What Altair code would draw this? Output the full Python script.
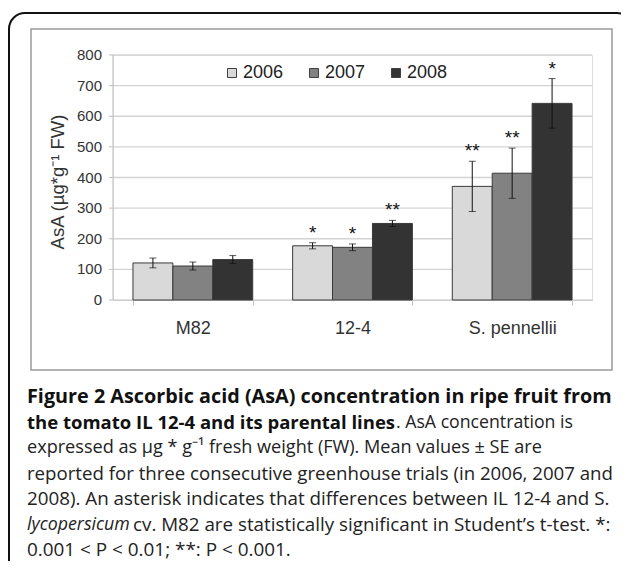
import altair as alt
import pandas as pd

# ---------------- data ----------------
groups = ["M82", "12-4", "S. pennellii"]
years = ["2006", "2007", "2008"]
mean_2006 = [121, 177, 371]
mean_2007 = [111, 172, 414]
mean_2008 = [132, 250, 642]
se_2006 = [16, 10, 82]
se_2007 = [13, 11, 82]
se_2008 = [13, 10, 81]
sig_2006 = ["", "*", "**"]
sig_2007 = ["", "*", "**"]
sig_2008 = ["", "**", "*"]
y_ticks = [0, 100, 200, 300, 400, 500, 600, 700, 800]
bar_colors = ["#d9d9d9", "#828282", "#333333"]

y_title = "AsA (µg*g⁻¹ FW)"
caption = [
    # (line, x offset, text, weight, style, size)
    (0, 0, "Figure 2 Ascorbic acid (AsA) concentration in ripe fruit from", "bold", "normal", 19.8),
    (1, 0, "the tomato IL 12-4 and its parental lines", "bold", "normal", 18.5),
    (1, 369, ". AsA concentration is", "normal", "normal", 17.7),
    (2, 0, "expressed as µg * g⁻¹ fresh weight (FW). Mean values ± SE are", "normal", "normal", 18.1),
    (3, 0, "reported for three consecutive greenhouse trials (in 2006, 2007 and", "normal", "normal", 18.65),
    (4, 0, "2008). An asterisk indicates that differences between IL 12-4 and S.", "normal", "normal", 18.8),
    (5, 0, "lycopersicum", "normal", "italic", 17.8),
    (5, 106, "cv. M82 are statistically significant in Student’s t-test. *:", "normal", "normal", 18.8),
    (6, 0, "0.001 < P < 0.01; **: P < 0.001.", "normal", "normal", 18.9),
]

rows = []
for yr, means, ses, sigs in zip(years, [mean_2006, mean_2007, mean_2008],
                                [se_2006, se_2007, se_2008],
                                [sig_2006, sig_2007, sig_2008]):
    for g, m, s, sg in zip(groups, means, ses, sigs):
        rows.append(dict(group=g, year=yr, mean=m, lo=m - s, hi=m + s, sig=sg))
df = pd.DataFrame(rows)
ticks_df = pd.DataFrame({"v": y_ticks})

# ---------------- layout ----------------
W, H = 479, 245
OX, OY = 113, 55  # page position of plot origin
SVG_W, SVG_H = 613, 553
FONT = "Liberation Sans"
AXIS_GRAY = "#bfbfbf"

x = alt.X("group:N", sort=groups,
          scale=alt.Scale(paddingInner=0.25, paddingOuter=0.125),
          axis=alt.Axis(title=None, tickBand="extent", labelAngle=0,
                        labelFontSize=18, labelFont=FONT, labelColor="#333333",
                        tickColor=AXIS_GRAY, tickSize=5, domainColor=AXIS_GRAY,
                        labelPadding=14, grid=False))
xo = alt.XOffset("year:N", sort=years, scale=alt.Scale(paddingInner=0, paddingOuter=0))
yscale = alt.Scale(domain=[0, 800], nice=False, zero=True)
color = alt.Color("year:N", sort=years,
                  scale=alt.Scale(domain=years, range=bar_colors),
                  legend=alt.Legend(orient="none", legendX=110, legendY=9,
                                    direction="horizontal", title=None,
                                    symbolType="square", symbolSize=81,
                                    symbolStrokeColor="#404040", symbolStrokeWidth=1,
                                    labelFontSize=18, labelFont=FONT, labelColor="#222222",
                                    labelOffset=2, columnPadding=21, padding=0))

# y axis drawn from the tick list through the y scale
tick_base = alt.Chart(ticks_df)
grid = tick_base.mark_rule(color="#d4d4d4", strokeWidth=1.3).encode(
    y=alt.Y("v:Q", scale=yscale, axis=None), x=alt.value(0), x2=alt.value(W))
yticks = tick_base.mark_rule(color=AXIS_GRAY, strokeWidth=1).encode(
    y=alt.Y("v:Q", scale=yscale, axis=None), x=alt.value(-4), x2=alt.value(0))
ylabels = tick_base.mark_text(font=FONT, fontSize=15, color="#333333", align="right",
                              baseline="middle").encode(
    y=alt.Y("v:Q", scale=yscale, axis=None), x=alt.value(-11), text="v:Q")
ydomain = alt.Chart(pd.DataFrame({"k": [1]})).mark_rule(color=AXIS_GRAY, strokeWidth=1).encode(
    x=alt.value(0), y=alt.value(0), y2=alt.value(H))

base = alt.Chart(df)
bars = base.mark_bar(stroke="#3a3a3a", strokeWidth=1).encode(
    x=x, xOffset=xo, y=alt.Y("mean:Q", scale=yscale, axis=None, stack=None), color=color)
err = base.mark_rule(color="#111111", strokeWidth=1).encode(
    x=x, xOffset=xo, y=alt.Y("lo:Q", scale=yscale, axis=None), y2="hi:Q")
cap_hi = base.mark_tick(color="#111111", thickness=1, size=7, orient="horizontal").encode(
    x=x, xOffset=xo, y=alt.Y("hi:Q", scale=yscale, axis=None))
cap_lo = base.mark_tick(color="#111111", thickness=1, size=7, orient="horizontal").encode(
    x=x, xOffset=xo, y=alt.Y("lo:Q", scale=yscale, axis=None))
stars = base.mark_text(font=FONT, fontSize=19, baseline="alphabetic", dy=-4, color="#111111").encode(
    x=x, xOffset=xo, y=alt.Y("hi:Q", scale=yscale, axis=None), text="sig:N")

one = pd.DataFrame({"t": [y_title]})
ytitle = alt.Chart(one).mark_text(angle=270, fontSize=18.5, font=FONT, color="#333333",
                                  baseline="middle", align="center").encode(
    text="t:N", x=alt.value(58 - OX), y=alt.value(182 - OY))

frame = pd.DataFrame({"k": [1]})
outer = alt.Chart(frame).mark_rect(fill=None, fillOpacity=0, stroke="#111111", strokeWidth=2,
                                   cornerRadius=16).encode(
    x=alt.value(9 - OX), x2=alt.value(633 - OX), y=alt.value(13 - OY), y2=alt.value(582 - OY))
inner = alt.Chart(frame).mark_rect(fill=None, fillOpacity=0, stroke="#9a9a9a", strokeWidth=1.5).encode(
    x=alt.value(31 - OX), x2=alt.value(612 - OX), y=alt.value(29 - OY), y2=alt.value(370 - OY))

cap_layers = []
for line, dx, txt, wt, st, fs in caption:
    c = alt.Chart(pd.DataFrame({"t": [txt]})).mark_text(
        font="Open Sans", fontSize=fs, fontWeight=wt, fontStyle=st,
        color="#111111" if wt == "bold" else "#222222",
        align="left", baseline="middle").encode(
        text="t:N", x=alt.value(27 + dx - OX), y=alt.value(397 + 25.5 * line - OY))
    cap_layers.append(c)

chart = alt.layer(outer, inner, grid, yticks, ylabels, ydomain,
                  bars, err, cap_hi, cap_lo, stars, ytitle, *cap_layers).properties(
    width=W, height=H,
    autosize=alt.AutoSizeParams(type="none"),
    padding={"left": OX - 8, "top": OY - 8, "right": SVG_W - (OX - 8) - W,
             "bottom": SVG_H - (OY - 8) - H},
).configure_view(stroke=None).configure(background="white")

chart.save("out.html", embed_options={"renderer": "svg", "actions": False})
